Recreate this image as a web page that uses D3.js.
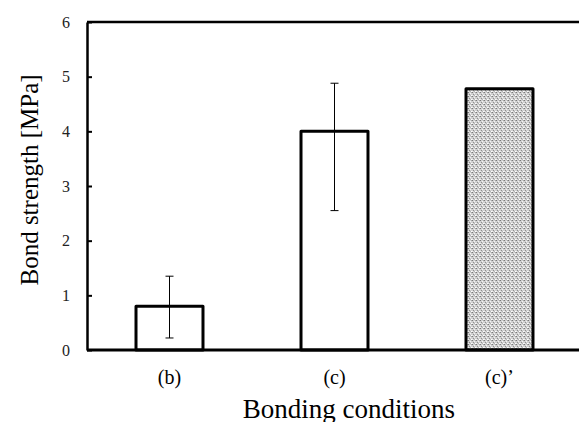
<!DOCTYPE html>
<html>
<head>
<meta charset="utf-8">
<script src="https://cdn.jsdelivr.net/npm/d3@7"></script>
<style>
  body { margin: 0; background: #fff; }
  svg { display: block; font-family: "Liberation Serif", "Times New Roman", serif; }
</style>
</head>
<body>
<svg id="chart"></svg>
<script>
// bond strength per bonding condition
const conditions = ["(b)", "(c)", "(c)\u2019"];
const strength = [0.8, 4.0, 4.78];
const errLow = [0.22, 2.55, null];
const errHigh = [1.35, 4.88, null];
const yTicks = [0, 1, 2, 3, 4, 5, 6];

const width = 579, height = 422;
const margin = {top: 22, right: -3, bottom: 72, left: 87};

const svg = d3.select("#chart")
    .attr("width", width)
    .attr("height", height);

// dotted grey fill for the last bar
const defs = svg.append("defs");
const pat = defs.append("pattern")
    .attr("id", "dots")
    .attr("patternUnits", "userSpaceOnUse")
    .attr("width", 4).attr("height", 4);
pat.append("rect").attr("width", 4).attr("height", 4).attr("fill", "#d0d0d0");
[[0,0,"#7a7a7a"],[2,1,"#f4f4f4"],[1,2,"#8f8f8f"],[3,3,"#ffffff"],[3,0,"#a8a8a8"],[0,3,"#eeeeee"],[2,3,"#b5b5b5"]]
    .forEach(p => pat.append("rect")
        .attr("x", p[0]).attr("y", p[1]).attr("width", 1).attr("height", 1)
        .attr("fill", p[2]));

const x = d3.scaleBand()
    .domain(conditions)
    .range([margin.left, width - margin.right])
    .paddingInner(0.594)
    .paddingOuter(0.297);

const y = d3.scaleLinear()
    .domain([0, 6])
    .range([height - margin.bottom, margin.top]);

// bars
svg.append("g")
    .selectAll("rect")
    .data(conditions)
    .enter().append("rect")
    .attr("x", d => x(d))
    .attr("y", (d, i) => y(strength[i]))
    .attr("width", x.bandwidth())
    .attr("height", (d, i) => y(0) - y(strength[i]))
    .attr("fill", (d, i) => i === 2 ? "url(#dots)" : "#fff")
    .attr("stroke", "#000")
    .attr("stroke-width", 3)
    .attr("stroke-linejoin", "round");

// error bars
const err = svg.append("g")
    .selectAll("g")
    .data(conditions.map((c, i) => ({c, lo: errLow[i], hi: errHigh[i]})).filter(d => d.lo !== null))
    .enter().append("g")
    .attr("stroke", "#000")
    .attr("stroke-width", 1);
err.append("line")
    .attr("x1", d => x(d.c) + x.bandwidth() / 2)
    .attr("x2", d => x(d.c) + x.bandwidth() / 2)
    .attr("y1", d => y(d.lo))
    .attr("y2", d => y(d.hi));
["lo", "hi"].forEach(k => err.append("line")
    .attr("x1", d => x(d.c) + x.bandwidth() / 2 - 4)
    .attr("x2", d => x(d.c) + x.bandwidth() / 2 + 4)
    .attr("y1", d => y(d[k]))
    .attr("y2", d => y(d[k])));

// top frame line
svg.append("line")
    .attr("x1", margin.left).attr("x2", width)
    .attr("y1", y(6)).attr("y2", y(6))
    .attr("stroke", "#000").attr("stroke-width", 2.5);

// y axis
const yAxis = svg.append("g")
    .attr("transform", `translate(${margin.left},0)`)
    .call(d3.axisLeft(y).tickValues(yTicks).tickFormat(d3.format("d"))
        .tickSizeInner(-5).tickSizeOuter(0).tickPadding(17));
yAxis.attr("font-family", null).attr("font-size", null);
yAxis.select(".domain").attr("stroke-width", 2.5);
yAxis.selectAll(".tick line").attr("stroke-width", 2);
yAxis.selectAll(".tick text")
    .attr("font-size", 16)
    .attr("fill", "#222");

// x axis
const xAxis = svg.append("g")
    .attr("transform", `translate(0,${y(0)})`)
    .call(d3.axisBottom(x).tickSize(0).tickPadding(20));
xAxis.attr("font-family", null).attr("font-size", null);
xAxis.select(".domain").attr("stroke-width", 3).attr("d", `M${margin.left},0H${width}`);
xAxis.selectAll(".tick text")
    .attr("font-size", 20)
    .attr("fill", "#000");

// axis titles
svg.append("text")
    .attr("x", 349)
    .attr("y", 418)
    .attr("text-anchor", "middle")
    .attr("font-size", 27)
    .text("Bonding conditions");

svg.append("text")
    .attr("transform", "translate(38,180) rotate(-90)")
    .attr("text-anchor", "middle")
    .attr("font-size", 25)
    .text("Bond strength [MPa]");
</script>
</body>
</html>
